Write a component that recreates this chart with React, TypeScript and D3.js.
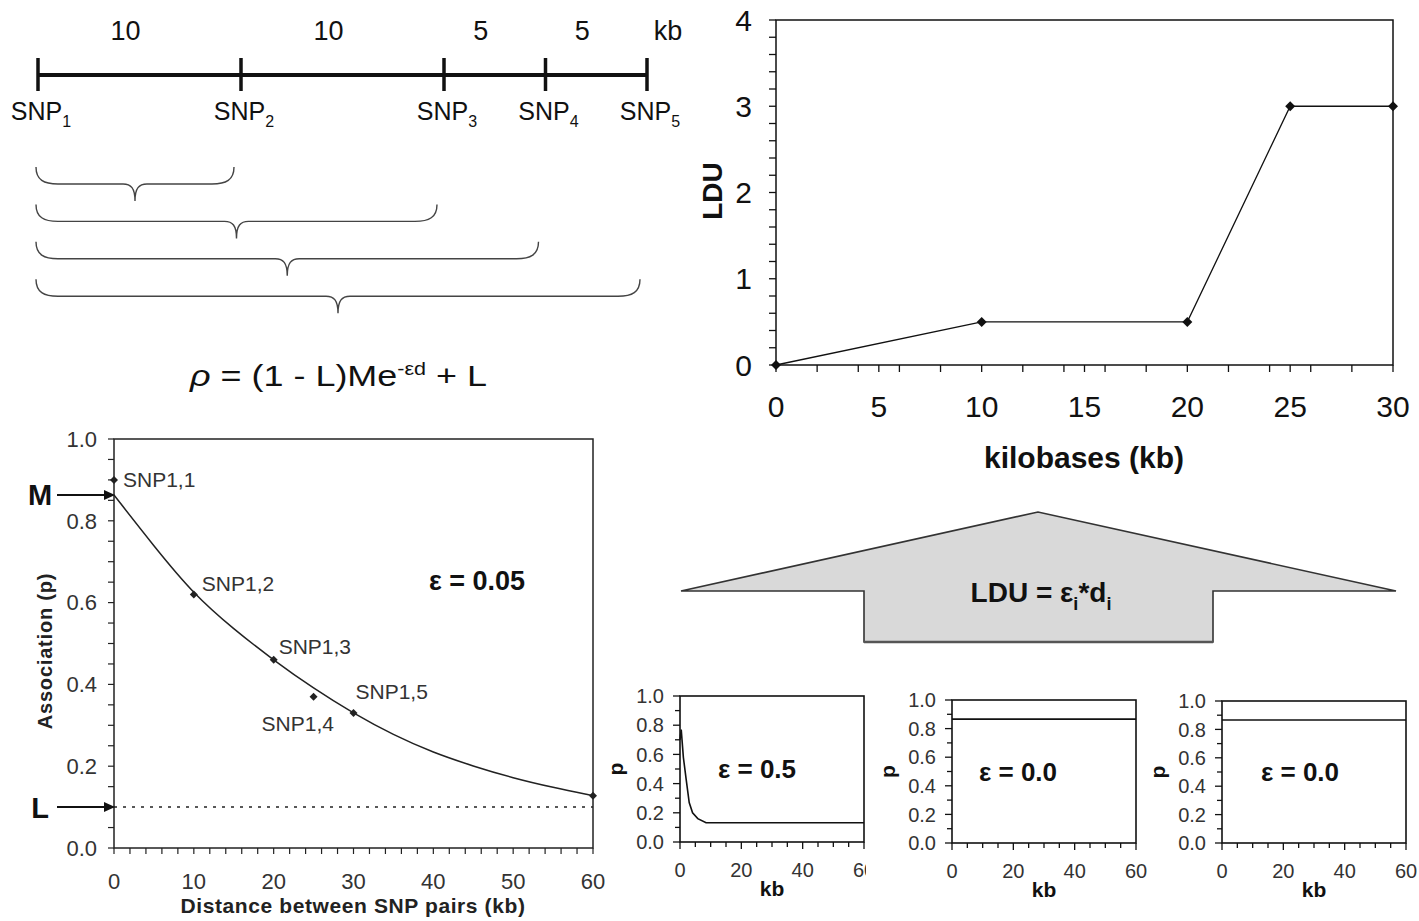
import React from "react";
import * as d3 from "d3";

const FONT = '"Liberation Sans", Arial, Helvetica, sans-serif';

// ---------- SNP map (top left) ----------
const snpGaps = [10, 10, 5, 5];
const snpIndex = ["1", "2", "3", "4", "5"];
const gapUnit = "kb";

// ---------- LDU map (top right) ----------
const lduKb = [0, 10, 20, 25, 30];
const lduValue = [0, 0.5, 0.5, 3, 3];
const lduXTicks = [0, 5, 10, 15, 20, 25, 30];
const lduYTicks = [0, 1, 2, 3, 4];

// ---------- Association vs distance (bottom left) ----------
const pairLabels = ["SNP1,1", "SNP1,2", "SNP1,3", "SNP1,4", "SNP1,5"];
const pairDist = [0, 10, 20, 25, 30];
const pairAssoc = [0.9, 0.62, 0.46, 0.37, 0.33];
const endDist = [60];
const endAssoc = [0.128];
const fitDist = [0, 5, 10, 15, 20, 25, 30, 35, 40, 45, 50, 55, 60];
const fitAssoc = [0.863, 0.738, 0.62, 0.535, 0.459, 0.39, 0.329, 0.276, 0.233, 0.2, 0.171, 0.148, 0.128];
const mValue = 0.863;
const lValue = 0.1;
const assocXTicks = [0, 10, 20, 30, 40, 50, 60];
const assocYTicks = [0, 0.2, 0.4, 0.6, 0.8, 1.0];
const mainEps = "0.05";

// ---------- small panels ----------
const panelEps = ["0.5", "0.0", "0.0"];
const panel1Kb = [0, 0.4, 1.1, 2, 3, 4.1, 5.8, 8.5, 60];
const panel1P = [0.7, 0.77, 0.58, 0.43, 0.27, 0.2, 0.16, 0.132, 0.132];
const panel2Kb = [0, 60];
const panel2P = [0.866, 0.866];
const panel3Kb = [0, 60];
const panel3P = [0.866, 0.866];
const panelXTicks = [0, 20, 40, 60];
const panelYTicks = [0, 0.2, 0.4, 0.6, 0.8, 1.0];

// layout for the SNP-pair labels (offset from their point)
const pairLabelOffset = [
  [9, 0],
  [8, -11],
  [5, -13],
  [-52, 27],
  [2, -22],
];

const diamond = (cx: number, cy: number, r: number) =>
  `M${cx},${cy - r}L${cx + r},${cy}L${cx},${cy + r}L${cx - r},${cy}Z`;

function bracePath(x0: number, x1: number, yTop: number, yLine: number, yTip: number) {
  const xm = (x0 + x1) / 2;
  const r = 22;
  const r2 = 12;
  return [
    `M${x0},${yTop}`,
    `C${x0},${yLine - 4} ${x0 + 8},${yLine} ${x0 + r},${yLine}`,
    `L${xm - r2},${yLine}`,
    `C${xm - 4},${yLine} ${xm},${yLine + 4} ${xm},${yTip}`,
    `C${xm},${yLine + 4} ${xm + 4},${yLine} ${xm + r2},${yLine}`,
    `L${x1 - r},${yLine}`,
    `C${x1 - 8},${yLine} ${x1},${yLine - 4} ${x1},${yTop}`,
  ].join(" ");
}

function SnpMap() {
  const pos = [0, ...d3.cumsum(snpGaps)];
  const xS = d3.scaleLinear().domain([0, d3.sum(snpGaps)]).range([38, 647]);
  const lineY = 75;
  return (
    <g fontFamily={FONT} fill="#111">
      <line x1={xS(0)} x2={xS(pos[pos.length - 1])} y1={lineY} y2={lineY} stroke="#111" strokeWidth={4} />
      {pos.map((p, i) => (
        <line key={"t" + i} x1={xS(p)} x2={xS(p)} y1={58} y2={91} stroke="#111" strokeWidth={3.5} />
      ))}
      {snpGaps.map((g, i) => (
        <text key={"g" + i} x={(xS(pos[i]) + xS(pos[i + 1])) / 2 - 14} y={40} fontSize={27} textAnchor="middle">
          {g}
        </text>
      ))}
      <text x={xS(pos[pos.length - 1]) + 21} y={40} fontSize={27} textAnchor="middle">
        {gapUnit}
      </text>
      {pos.map((p, i) => (
        <text key={"s" + i} x={xS(p) + 3} y={120} fontSize={25} textAnchor="middle">
          SNP
          <tspan fontSize={16} dy={7}>
            {snpIndex[i]}
          </tspan>
        </text>
      ))}
      {pos.slice(1).map((p, i) => {
        const top = 167 + i * 37.4;
        return (
          <path
            key={"b" + i}
            d={bracePath(xS(0) - 2, xS(p) - 7, top, top + 17, top + 34)}
            fill="none"
            stroke="#444"
            strokeWidth={1.4}
          />
        );
      })}
      <text x={190} y={386} fontSize={30} textLength={297} lengthAdjust="spacingAndGlyphs">
        <tspan fontStyle="italic">ρ</tspan>
        {" = (1 - L)Me"}
        <tspan fontSize={18} dy={-11}>
          -εd
        </tspan>
        <tspan dy={11}>{" + L"}</tspan>
      </text>
    </g>
  );
}

function LduChart() {
  const x = d3.scaleLinear().domain([0, 30]).range([776, 1393]);
  const y = d3.scaleLinear().domain([0, 4]).range([365, 20]);
  const line = d3
    .line<number>()
    .x((_, i) => x(lduKb[i]))
    .y((v) => y(v));
  const yMinor = d3.range(0, 4.0001, 0.2);
  const xMinor = d3.range(0, 31, 1).filter((v) => v % 2 === 0 || v % 5 === 0);
  return (
    <g fontFamily={FONT} fill="#111">
      <rect x={x(0)} y={y(4)} width={x(30) - x(0)} height={y(0) - y(4)} fill="none" stroke="#111" strokeWidth={1.5} />
      {yMinor.map((v, i) => (
        <line key={"ym" + i} x1={x(0) - 7} x2={x(0)} y1={y(v)} y2={y(v)} stroke="#111" strokeWidth={1.3} />
      ))}
      {xMinor.map((v, i) => (
        <line key={"xm" + i} x1={x(v)} x2={x(v)} y1={y(0)} y2={y(0) + 7} stroke="#111" strokeWidth={1.3} />
      ))}
      {lduYTicks.map((v) => (
        <text key={"yl" + v} x={x(0) - 24} y={y(v)} dy="0.35em" fontSize={30} textAnchor="end">
          {v}
        </text>
      ))}
      {lduXTicks.map((v) => (
        <text key={"xl" + v} x={x(v)} y={417} fontSize={30} textAnchor="middle">
          {v}
        </text>
      ))}
      <path d={line(lduValue) || ""} fill="none" stroke="#111" strokeWidth={1.3} />
      {lduValue.map((v, i) => (
        <path key={"d" + i} d={diamond(x(lduKb[i]), y(v), 5)} fill="#111" />
      ))}
      <text transform={`translate(722,191) rotate(-90)`} fontSize={28} fontWeight="bold" textAnchor="middle">
        LDU
      </text>
      <text x={1084} y={468} fontSize={30} fontWeight="bold" textAnchor="middle">
        kilobases (kb)
      </text>
    </g>
  );
}

function AssocChart() {
  const x = d3.scaleLinear().domain([0, 60]).range([114, 593]);
  const y = d3.scaleLinear().domain([0, 1]).range([848, 439]);
  const curve = d3
    .line<number>()
    .x((_, i) => x(fitDist[i]))
    .y((v) => y(v))
    .curve(d3.curveBasis);
  const yMinor = d3.range(0, 1.0001, 0.05);
  const xMinor = d3.range(0, 61, 2);
  const arrow = (yy: number, key: string, label: string) => (
    <g key={key}>
      <line x1={57} x2={105} y1={yy} y2={yy} stroke="#111" strokeWidth={2} />
      <path d={`M104,${yy - 5}L115,${yy}L104,${yy + 5}Z`} fill="#111" />
      <text x={40} y={yy} dy="0.36em" fontSize={29} fontWeight="bold" textAnchor="middle" fill="#111">
        {label}
      </text>
    </g>
  );
  return (
    <g fontFamily={FONT}>
      <rect x={x(0)} y={y(1)} width={x(60) - x(0)} height={y(0) - y(1)} fill="none" stroke="#222" strokeWidth={1.5} />
      {yMinor.map((v, i) => (
        <line key={"ym" + i} x1={x(0) - 6} x2={x(0)} y1={y(v)} y2={y(v)} stroke="#222" strokeWidth={1.2} />
      ))}
      {xMinor.map((v, i) => (
        <line key={"xm" + i} x1={x(v)} x2={x(v)} y1={y(0)} y2={y(0) + 6} stroke="#222" strokeWidth={1.2} />
      ))}
      {assocYTicks.map((v) => (
        <text key={"yl" + v} x={x(0) - 17} y={y(v)} dy="0.35em" fontSize={22} textAnchor="end" fill="#333">
          {v.toFixed(1)}
        </text>
      ))}
      {assocXTicks.map((v) => (
        <text key={"xl" + v} x={x(v)} y={889} fontSize={22} textAnchor="middle" fill="#333">
          {v}
        </text>
      ))}
      <line x1={x(0)} x2={x(60)} y1={y(lValue)} y2={y(lValue)} stroke="#222" strokeWidth={1.5} strokeDasharray="3,6" />
      <path d={curve(fitAssoc) || ""} fill="none" stroke="#222" strokeWidth={1.5} />
      {pairAssoc.map((v, i) => (
        <path key={"p" + i} d={diamond(x(pairDist[i]), y(v), 4)} fill="#222" />
      ))}
      {endAssoc.map((v, i) => (
        <path key={"e" + i} d={diamond(x(endDist[i]), y(v), 4)} fill="#222" />
      ))}
      {pairLabels.map((t, i) => (
        <text
          key={t}
          x={x(pairDist[i]) + pairLabelOffset[i][0]}
          y={y(pairAssoc[i]) + pairLabelOffset[i][1]}
          dy="0.36em"
          fontSize={21}
          fill="#333"
        >
          {t}
        </text>
      ))}
      {arrow(y(mValue), "m", "M")}
      {arrow(y(lValue), "l", "L")}
      <text x={477} y={580} dy="0.36em" fontSize={27} fontWeight="bold" textAnchor="middle" fill="#111">
        ε = {mainEps}
      </text>
      <text transform={`translate(52,651) rotate(-90)`} fontSize={20} fontWeight="bold" textAnchor="middle" letterSpacing={0.8} fill="#222">
        Association (p)
      </text>
      <text x={353} y={913} fontSize={21} fontWeight="bold" textAnchor="middle" letterSpacing={0.6} fill="#222">
        Distance between SNP pairs (kb)
      </text>
    </g>
  );
}

function SmallPanel(props: {
  id: string;
  x0: number;
  x1: number;
  yTop: number;
  yBot: number;
  kb: number[];
  p: number[];
  eps: string;
  epsDx: number;
  clipLabels: boolean;
}) {
  const { id, x0, x1, yTop, yBot, kb, p, eps, epsDx, clipLabels } = props;
  const x = d3.scaleLinear().domain([0, 60]).range([x0, x1]);
  const y = d3.scaleLinear().domain([0, 1]).range([yBot, yTop]);
  const line = d3
    .line<number>()
    .x((_, i) => x(kb[i]))
    .y((v) => y(v));
  const yMinor = d3.range(0, 1.0001, 0.1);
  const xMinor = d3.range(0, 61, 5);
  return (
    <g fontFamily={FONT}>
      <defs>
        <clipPath id={id}>
          <rect x={x0 - 40} y={yBot} width={x1 - x0 + 42} height={60} />
        </clipPath>
      </defs>
      <rect x={x0} y={yTop} width={x1 - x0} height={yBot - yTop} fill="none" stroke="#111" strokeWidth={1.6} />
      {yMinor.map((v, i) => (
        <line key={"ym" + i} x1={x0 - (i % 2 === 0 ? 7 : 5)} x2={x0} y1={y(v)} y2={y(v)} stroke="#111" strokeWidth={1.3} />
      ))}
      {xMinor.map((v, i) => (
        <line key={"xm" + i} x1={x(v)} x2={x(v)} y1={yBot} y2={yBot + (v % 20 === 0 ? 7 : 5)} stroke="#111" strokeWidth={1.3} />
      ))}
      {panelYTicks.map((v) => (
        <text key={"yl" + v} x={x0 - 16} y={y(v)} dy="0.36em" fontSize={20} textAnchor="end" fill="#333">
          {v.toFixed(1)}
        </text>
      ))}
      <g clipPath={clipLabels ? `url(#${id})` : undefined}>
        {panelXTicks.map((v) => (
          <text key={"xl" + v} x={x(v)} y={yBot + 35} fontSize={20} textAnchor="middle" fill="#333">
            {v}
          </text>
        ))}
      </g>
      <path d={line(p) || ""} fill="none" stroke="#111" strokeWidth={1.6} />
      <text x={x0 + epsDx} y={(yTop + yBot) / 2} dy="0.36em" fontSize={26} fontWeight="bold" textAnchor="middle" fill="#111">
        ε = {eps}
      </text>
      <text transform={`translate(${x0 - 57},${(yTop + yBot) / 2}) rotate(-90)`} fontSize={21} fontWeight="bold" textAnchor="middle" fill="#111">
        p
      </text>
      <text x={(x0 + x1) / 2} y={yBot + 54} fontSize={21} fontWeight="bold" textAnchor="middle" fill="#111">
        kb
      </text>
    </g>
  );
}

function BigArrow() {
  const left = 681,
    right = 1396,
    apexX = 1038,
    apexY = 512,
    shoulderY = 591,
    stemL = 864,
    stemR = 1213,
    stemB = 642;
  const pts = [
    [left, shoulderY],
    [apexX, apexY],
    [right, shoulderY],
    [stemR, shoulderY],
    [stemR, stemB],
    [stemL, stemB],
    [stemL, shoulderY],
  ];
  return (
    <g fontFamily={FONT}>
      <polygon points={pts.map((p) => p.join(",")).join(" ")} fill="#d9d9d9" stroke="#333" strokeWidth={1.6} />
      <line x1={stemL} x2={stemR} y1={stemB} y2={stemB} stroke="#555" strokeWidth={2.5} />
      <text x={1041} y={602} fontSize={28} fontWeight="bold" textAnchor="middle" fill="#111">
        LDU = ε
        <tspan fontSize={18} dy={8}>
          i
        </tspan>
        <tspan dy={-8}>*d</tspan>
        <tspan fontSize={18} dy={8}>
          i
        </tspan>
      </text>
    </g>
  );
}

export default function App() {
  return (
    <svg width={1419} height={921} viewBox="0 0 1419 921" style={{ display: "block", position: "absolute", left: 0, top: 0, background: "#fff" }}>
      <rect x={0} y={0} width={1419} height={921} fill="#fff" />
      <SnpMap />
      <LduChart />
      <AssocChart />
      <BigArrow />
      <SmallPanel id="c1" x0={680} x1={864} yTop={696} yBot={842} kb={panel1Kb} p={panel1P} eps={panelEps[0]} epsDx={77} clipLabels={true} />
      <SmallPanel id="c2" x0={952} x1={1136} yTop={700} yBot={843} kb={panel2Kb} p={panel2P} eps={panelEps[1]} epsDx={66} clipLabels={false} />
      <SmallPanel id="c3" x0={1222} x1={1406} yTop={701} yBot={843} kb={panel3Kb} p={panel3P} eps={panelEps[2]} epsDx={78} clipLabels={false} />
    </svg>
  );
}
